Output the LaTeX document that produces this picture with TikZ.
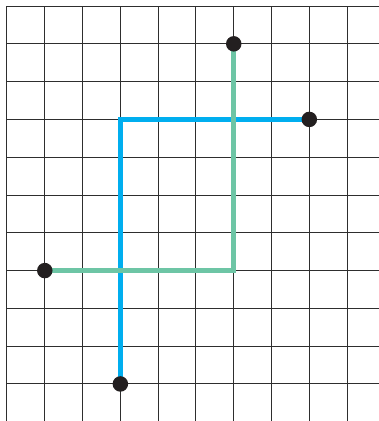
\documentclass[tikz,border=0pt]{standalone}
\usepackage{tikz}
\usetikzlibrary{positioning}
\definecolor{gridline}{HTML}{2E2E2E}
\definecolor{routeblue}{HTML}{00AEEF}
\definecolor{routegreen}{HTML}{6DC5A5}
\definecolor{dotink}{HTML}{231F20}

\begin{document}
\begin{tikzpicture}[x=1cm,y=1cm,
  dot/.style={circle,fill=dotink,inner sep=0pt,minimum size=0.41cm},
  route/.style={line width=3.8pt}]
\useasboundingbox (-0.185,-0.98) rectangle (9.84,10.16);
% the squared paper: 10 columns, 11 rows
\foreach \i in {0,...,9} {\draw[gridline,line width=0.75pt] (\i,-0.98) -- (\i,10);}
\foreach \j in {0,...,10} {\draw[gridline,line width=0.75pt] (0,\j) -- (9.84,\j);}
% ends and corners of the two routes
\coordinate (bstart) at (3,0);
\coordinate (bturn) at (3,7);
\coordinate (bend) at (8,7);
\coordinate (gstart) at (1,3);
\coordinate (gturn) at (6,3);
\coordinate (gend) at (6,9);
% blue route first, green one over it
\draw[route,routeblue] (bstart) -- (bturn) -- (bend);
\draw[route,routegreen] (gstart) -- (gturn) -- (gend);
% the dots
\node[dot] (bstartdot) at (bstart) {};
\node[dot] (benddot) at (bend) {};
\node[dot] (gstartdot) at (gstart) {};
\node[dot] (genddot) at (gend) {};
\end{tikzpicture}
\end{document}
